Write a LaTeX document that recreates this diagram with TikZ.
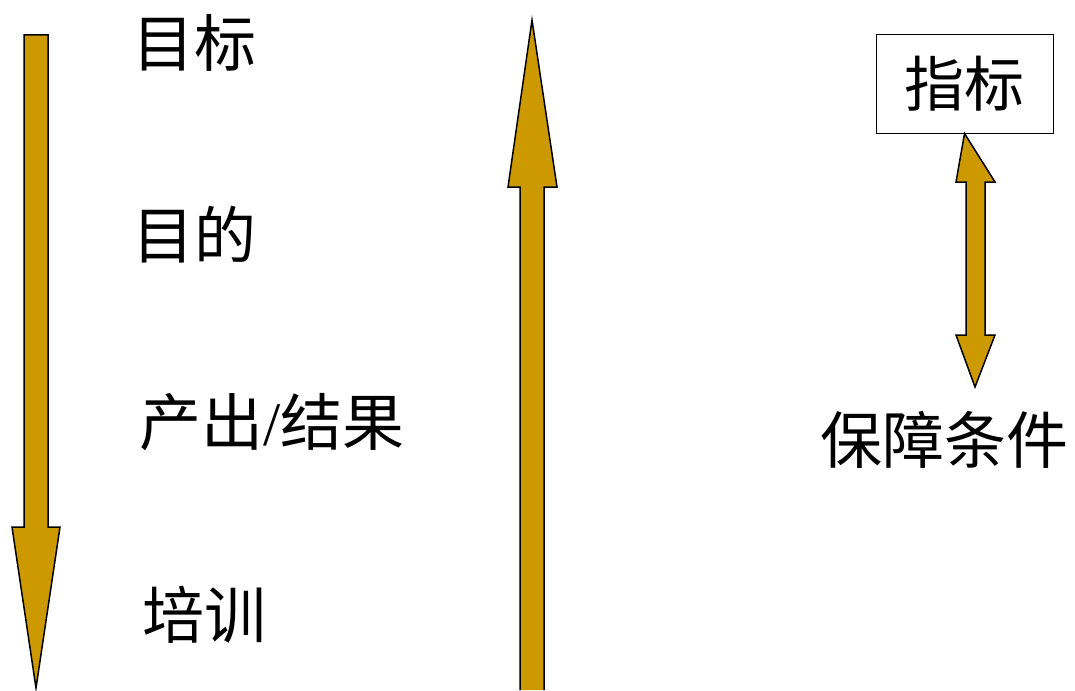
\documentclass[tikz,border=0pt]{standalone}
\usepackage{fontspec}
\setmainfont{Liberation Serif}
\newfontfamily\cjk{Noto Sans CJK SC}
\usetikzlibrary{positioning}
\definecolor{gold}{RGB}{204,153,0}
\tikzset{x=1pt, y=-1pt,
         level/.style={anchor=west, inner sep=0pt, font=\cjk\fontsize{62}{64}\selectfont},
         indicator/.style={draw, line width=1pt, minimum width=177pt, minimum height=98pt, inner sep=0pt, font=\cjk\fontsize{60}{62}\selectfont},
         blockarrow/.style={draw, line width=1.5pt, fill=gold, line join=miter},
        }
\begin{document}
\begin{tikzpicture}
        \useasboundingbox (0,0) rectangle (1075,690);

        \node[level](goal)at(132,43){目标};
        \node[level](purpose)at(132,235){目的};
        \node[level](output)at(139,422){产出{\rmfamily/}结果};
        \node[level](train)at(142,615){培训};

        \node[indicator](ind)at(964.5,84){指标};
        \node[level](cond)at(820,440){保障条件};

        % top-down logic
        \draw[blockarrow](24,35)--(48,35)--(48,527)--(60,527)--(36,688)--(12,527)--(24,527)--cycle;

        % bottom-up logic
        \draw[blockarrow](520,690)--(520,187)--(508,187)--(532,20)--(557,187)--(544,187)--(544,690);

        % indicator and assumptions
        \draw[blockarrow](ind.south)--(995,182)--(985,182)--(985,335)--(995,335)--(975,387)--(956,335)--(966,335)--(966,182)--(956,182)--cycle;
    \end{tikzpicture}
\end{document}
